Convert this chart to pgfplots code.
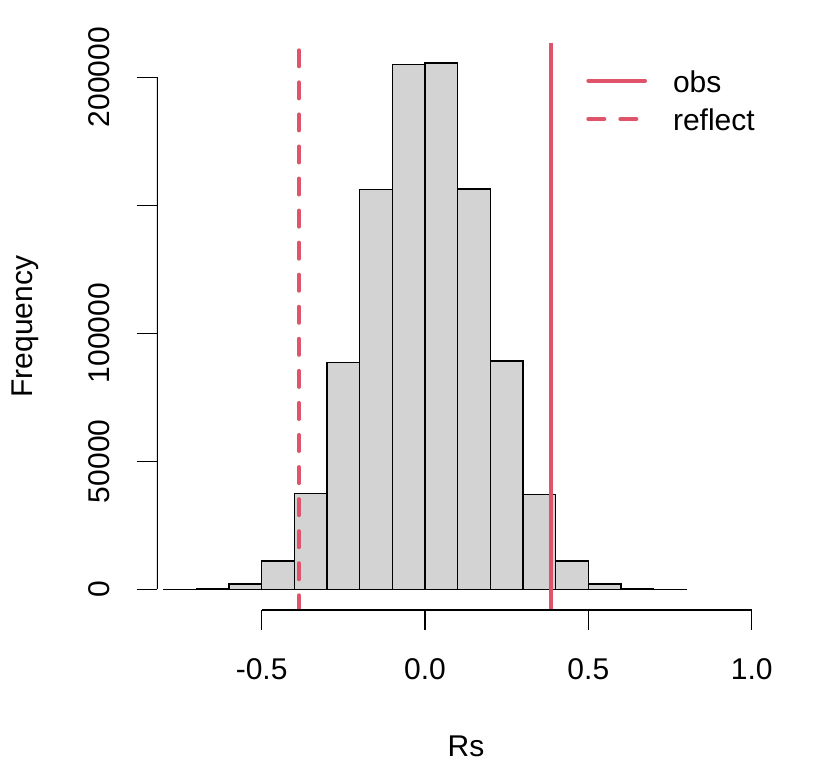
\documentclass[border=0pt]{standalone}
\usepackage{fontspec}
\setmainfont{Liberation Sans}
\usepackage{pgfplots}
\pgfplotsset{compat=1.18}
\definecolor{rred}{HTML}{DF536B}
\definecolor{histgray}{HTML}{D3D3D3}

\begin{document}
\begin{tikzpicture}[font=\fontsize{15}{18}\selectfont]
  \begin{axis}[
      at={(0,0)}, anchor=south west,
      scale only axis,
      width=309pt, height=283.5pt,
      xmin=-0.8203, xmax=1.0713,
      ymin=-8086, ymax=213398,
      axis x line*=bottom, axis y line*=left,
      axis line style={draw=none},
      tick align=outside,
      major tick length=10pt,
      tick style={black, line width=0.67pt},
      xtick={-0.5,0,0.5,1},
      xticklabels={-0.5,0.0,0.5,1.0},
      ytick={0,50000,100000,150000,200000},
      yticklabels={0,50000,100000,,200000},
      scaled ticks=false,
      xticklabel style={anchor=center},
      xticklabel shift=19.35pt,
      yticklabel style={rotate=90, anchor=center},
      yticklabel shift=18.75pt,
      xlabel={Rs}, ylabel={Frequency},
      every axis x label/.style={at={(axis description cs:0.5,-0.2407)}, anchor=center},
      every axis y label/.style={at={(axis description cs:-0.2136,0.5)}, rotate=90, anchor=center},
      legend style={draw=none, fill=none, inner sep=0pt, outer sep=0pt,
        at={(axis description cs:0.6947,0.9547)}, anchor=north west,
        row sep=7.15pt, column sep=13pt,
        cells={anchor=west},
        nodes={inner sep=0pt, outer sep=0pt, text height=12pt, text depth=0pt}},
      legend image code/.code={\draw[#1, dash phase=0pt] (0pt,0pt) -- (28.35pt,0pt);},
    ]
    % counts per bin of width 0.1
    \addplot[ybar interval, fill=histgray, draw=black, line width=0.67pt, forget plot] coordinates {
      (-0.8,30) (-0.7,380) (-0.6,2070) (-0.5,11100) (-0.4,37500) (-0.3,88700)
      (-0.2,156250) (-0.1,205100) (0.0,205600) (0.1,156400) (0.2,89200)
      (0.3,36950) (0.4,11050) (0.5,2070) (0.6,350) (0.7,30) (0.8,30)
    };
    \addplot[rred, line width=2pt, line cap=round] coordinates {(0.385,213398) (0.385,-8086)};
    \addplot[rred, line width=2pt, line cap=round, dash pattern=on 8pt off 8.03pt, dash phase=12.38pt]
      coordinates {(-0.386,213398) (-0.386,-8086)};
    \legend{obs,reflect}
    % R style axis lines, only over the tick range
    \draw[black, line width=0.67pt] (axis cs:-0.5,-8086) -- (axis cs:1,-8086);
    \draw[black, line width=0.67pt] (axis cs:-0.8203,0) -- (axis cs:-0.8203,200000);
  \end{axis}
  \pgfresetboundingbox
  \path[use as bounding box] (-78.5pt,-79pt) rectangle (329.5pt,305pt);
\end{tikzpicture}
\end{document}
